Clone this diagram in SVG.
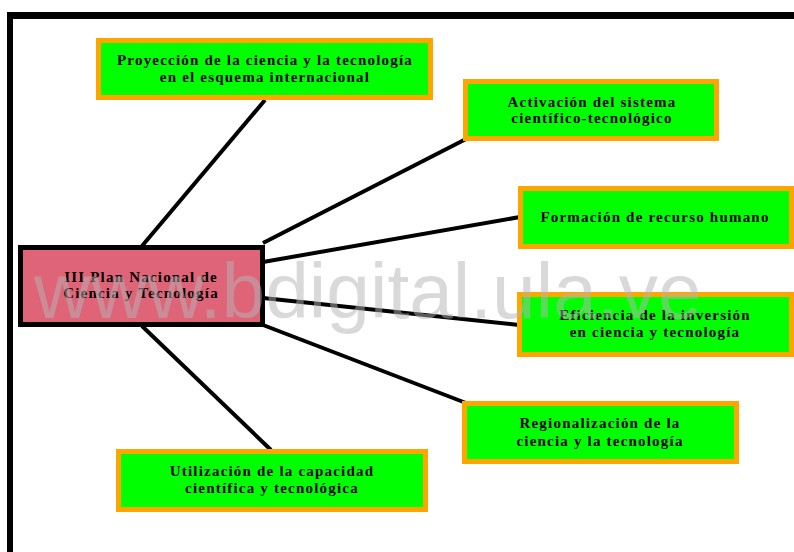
<svg xmlns="http://www.w3.org/2000/svg" width="794" height="552" viewBox="0 0 794 552">
  <style>
    .topic rect { fill: #00ff00; stroke: #ffa500; stroke-width: 5; }
    .hub rect { fill: #e06478; stroke: #000000; stroke-width: 5; }
    text.lbl { font-family: "Liberation Serif", "Times New Roman", serif; font-weight: bold; font-size: 15px; fill: #000000; text-anchor: middle; letter-spacing: 1.2px; }
    .links line { stroke: #000000; stroke-width: 4; stroke-linecap: butt; }
    .frame { fill: #000000; }
    .mark { font-family: "Liberation Sans", Arial, sans-serif; font-size: 78.5px; fill: #b4b4b4; fill-opacity: 0.5; }
  </style>
  <rect width="794" height="552" fill="#ffffff"/>

  <!-- page frame -->
  <rect class="frame" x="7" y="12" width="787" height="7"/>
  <rect class="frame" x="7" y="12" width="6" height="540"/>

  <!-- connectors from the hub to each topic -->
  <g class="links" id="connectors">
    <line x1="142" y1="246" x2="265" y2="100"/>
    <line x1="263" y1="243" x2="466" y2="139"/>
    <line x1="263" y1="262" x2="520" y2="217"/>
    <line x1="263" y1="298" x2="519" y2="325"/>
    <line x1="263" y1="325" x2="466" y2="403"/>
    <line x1="142" y1="326" x2="271" y2="450"/>
  </g>

  <g class="hub" id="hub">
    <rect x="20.5" y="247.5" width="242" height="77"/>
    <text class="lbl" x="141" y="282">III Plan Nacional de</text>
    <text class="lbl" x="141" y="298">Ciencia y Tecnología</text>
  </g>

  <g class="topic" id="proyeccion">
    <rect x="98.5" y="40.5" width="332" height="57"/>
    <text class="lbl" x="265" y="65">Proyección de la ciencia y la tecnología</text>
    <text class="lbl" x="265" y="82">en el esquema internacional</text>
  </g>

  <g class="topic" id="activacion">
    <rect x="465.5" y="81.5" width="251" height="57"/>
    <text class="lbl" x="592" y="107">Activación del sistema</text>
    <text class="lbl" x="592" y="123">científico-tecnológico</text>
  </g>

  <g class="topic" id="formacion">
    <rect x="520.5" y="188.5" width="271" height="58"/>
    <text class="lbl" x="655" y="222">Formación de recurso humano</text>
  </g>

  <g class="topic" id="eficiencia">
    <rect x="519.5" y="294.5" width="272" height="60"/>
    <text class="lbl" x="655" y="320">Eficiencia de la inversión</text>
    <text class="lbl" x="655" y="337">en ciencia y tecnología</text>
  </g>

  <g class="topic" id="regionalizacion">
    <rect x="464.5" y="403.5" width="272" height="58"/>
    <text class="lbl" x="600" y="428">Regionalización de la</text>
    <text class="lbl" x="600" y="446">ciencia y la tecnología</text>
  </g>

  <g class="topic" id="utilizacion">
    <rect x="118.5" y="451.5" width="307" height="58"/>
    <text class="lbl" x="272" y="476">Utilización de la capacidad</text>
    <text class="lbl" x="272" y="493">científica y tecnológica</text>
  </g>

  <!-- site watermark -->
  <text class="mark" x="34" y="318">www.bdigital.ula.ve</text>
</svg>
